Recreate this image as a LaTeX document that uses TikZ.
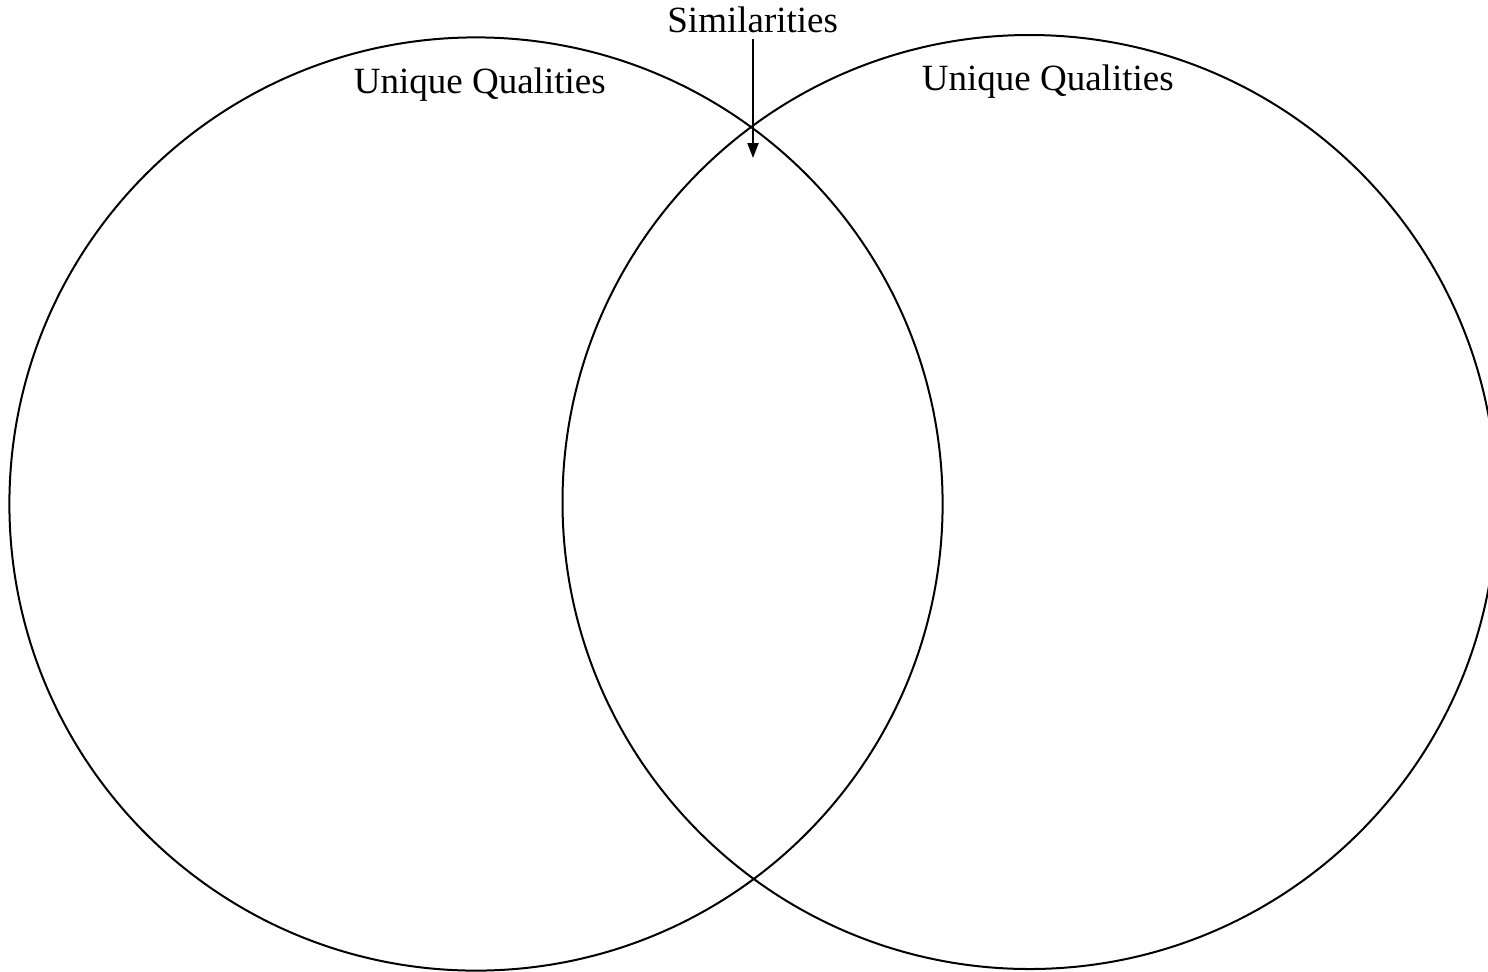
\documentclass[tikz,border=0pt]{standalone}
\usepackage{fontspec}
\setmainfont{Liberation Serif}
\usetikzlibrary{arrows.meta}
\begin{document}
\begin{tikzpicture}[x=0.5pt,y=-0.5pt,
  ring/.style={draw=black,line width=1pt},
  label/.style={inner sep=0pt,anchor=base west,font=\fontsize{18.5}{22}\selectfont},
  pointer/.style={draw=black,line width=1pt,-{Triangle[length=7.5pt,width=5.5pt]}}]
\useasboundingbox (0,0) rectangle (1488,971);
\path[ring] (476,504) circle (233.3pt);
\path[ring] (1029.5,502) circle (233.5pt);
\node[label] (leftlbl) at (353.5,93.3) {Unique Qualities};
\node[label] (rightlbl) at (921.5,90.7) {Unique Qualities};
\node[label] (sim) at (667,32) {Similarities};
\coordinate (arrowstart) at (753,39);
\coordinate (arrowend) at (753,158);
\draw[pointer] (arrowstart) -- (arrowend);
\end{tikzpicture}
\end{document}
